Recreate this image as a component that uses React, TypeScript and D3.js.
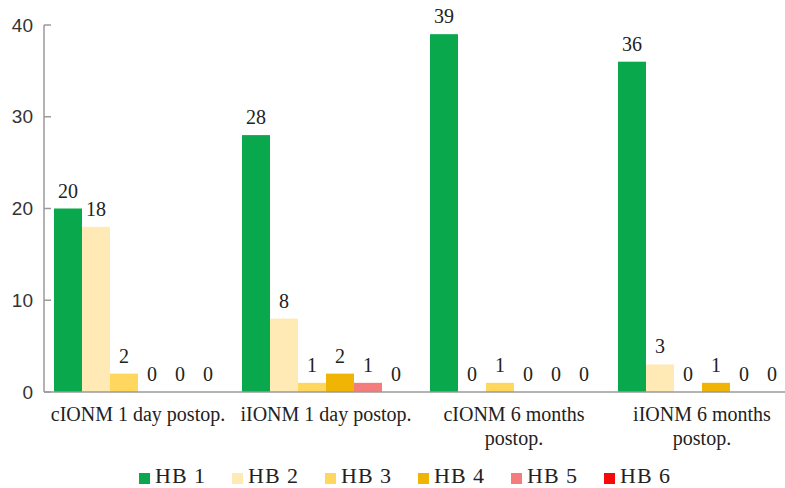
import React from "react";
import * as d3 from "d3";

const groups = ["cIONM 1 day postop.", "iIONM 1 day postop.", "cIONM 6 months postop.", "iIONM 6 months postop."];
const groupLines = [["cIONM 1 day postop."], ["iIONM 1 day postop."], ["cIONM 6 months", "postop."], ["iIONM 6 months", "postop."]];
const series = ["HB 1", "HB 2", "HB 3", "HB 4", "HB 5", "HB 6"];
const colors = ["#0AA84C", "#FFE9B5", "#FFD65E", "#F0B405", "#F57C7C", "#F50A0A"];
const hb1 = [20, 28, 39, 36];
const hb2 = [18, 8, 0, 3];
const hb3 = [2, 1, 1, 0];
const hb4 = [0, 2, 0, 1];
const hb5 = [0, 1, 0, 0];
const hb6 = [0, 0, 0, 0];
const values = [hb1, hb2, hb3, hb4, hb5, hb6];
const yTicks = [0, 10, 20, 30, 40];

const W = 785;
const H = 488;

export default function App() {
  const axisX = 44;
  const x0 = d3
    .scaleBand<string>()
    .domain(groups)
    .range([axisX, axisX + 4 * 188])
    .paddingInner(20 / 188)
    .paddingOuter(10 / 188);
  const x1 = d3.scaleBand<string>().domain(series).range([0, x0.bandwidth()]).padding(0);
  const y = d3.scaleLinear().domain([0, 40]).range([392, 25]);
  const serif = "'Liberation Serif', 'Times New Roman', serif";
  const sans = "'Liberation Sans', Arial, sans-serif";
  const legendX = d3.scaleLinear().domain([0, 5]).range([139, 604]);

  return (
    <svg width={W} height={H} style={{ position: "absolute", left: 0, top: 0 }}>
      <rect x={0} y={0} width={W} height={H} fill="#fff" />
      {groups.map((g, gi) => (
        <g key={g} transform={`translate(${x0(g)},0)`}>
          {series.map((s, si) => {
            const v = values[si][gi];
            const bx = x1(s)!;
            return (
              <g key={s}>
                {v > 0 && (
                  <rect x={bx} y={y(v)} width={x1.bandwidth()} height={y(0) - y(v)} fill={colors[si]} />
                )}
                <text
                  x={bx + x1.bandwidth() / 2}
                  y={y(v) - 11}
                  textAnchor="middle"
                  fontFamily={serif}
                  fontSize={20}
                  fill="#222"
                >
                  {v}
                </text>
              </g>
            );
          })}
        </g>
      ))}
      <line x1={axisX} x2={W} y1={y(0)} y2={y(0)} stroke="#9a9a9a" strokeWidth={1.5} />
      <line x1={axisX} x2={axisX} y1={y(40)} y2={y(0)} stroke="#9a9a9a" strokeWidth={1.5} />
      {yTicks.map((t) => (
        <g key={t}>
          <line x1={axisX} x2={axisX + 7} y1={y(t)} y2={y(t)} stroke="#9a9a9a" strokeWidth={1.5} />
          <text
            x={33}
            y={y(t)}
            textAnchor="end"
            dominantBaseline="central"
            fontFamily={sans}
            fontSize={19}
            fill="#333"
          >
            {t}
          </text>
        </g>
      ))}
      {groups.map((g, gi) => (
        <text key={g} textAnchor="middle" fontFamily={serif} fontSize={20} fill="#222">
          {groupLines[gi].map((ln, li) => (
            <tspan key={li} x={x0(g)! + x0.bandwidth() / 2} y={421 + li * 24}>
              {ln}
            </tspan>
          ))}
        </text>
      ))}
      {series.map((s, si) => (
        <g key={s} transform={`translate(${legendX(si)},0)`}>
          <rect x={0} y={473} width={11} height={11} fill={colors[si]} />
          <text x={16} y={483} fontFamily={serif} fontSize={22} letterSpacing={1} fill="#222">
            {s}
          </text>
        </g>
      ))}
    </svg>
  );
}
